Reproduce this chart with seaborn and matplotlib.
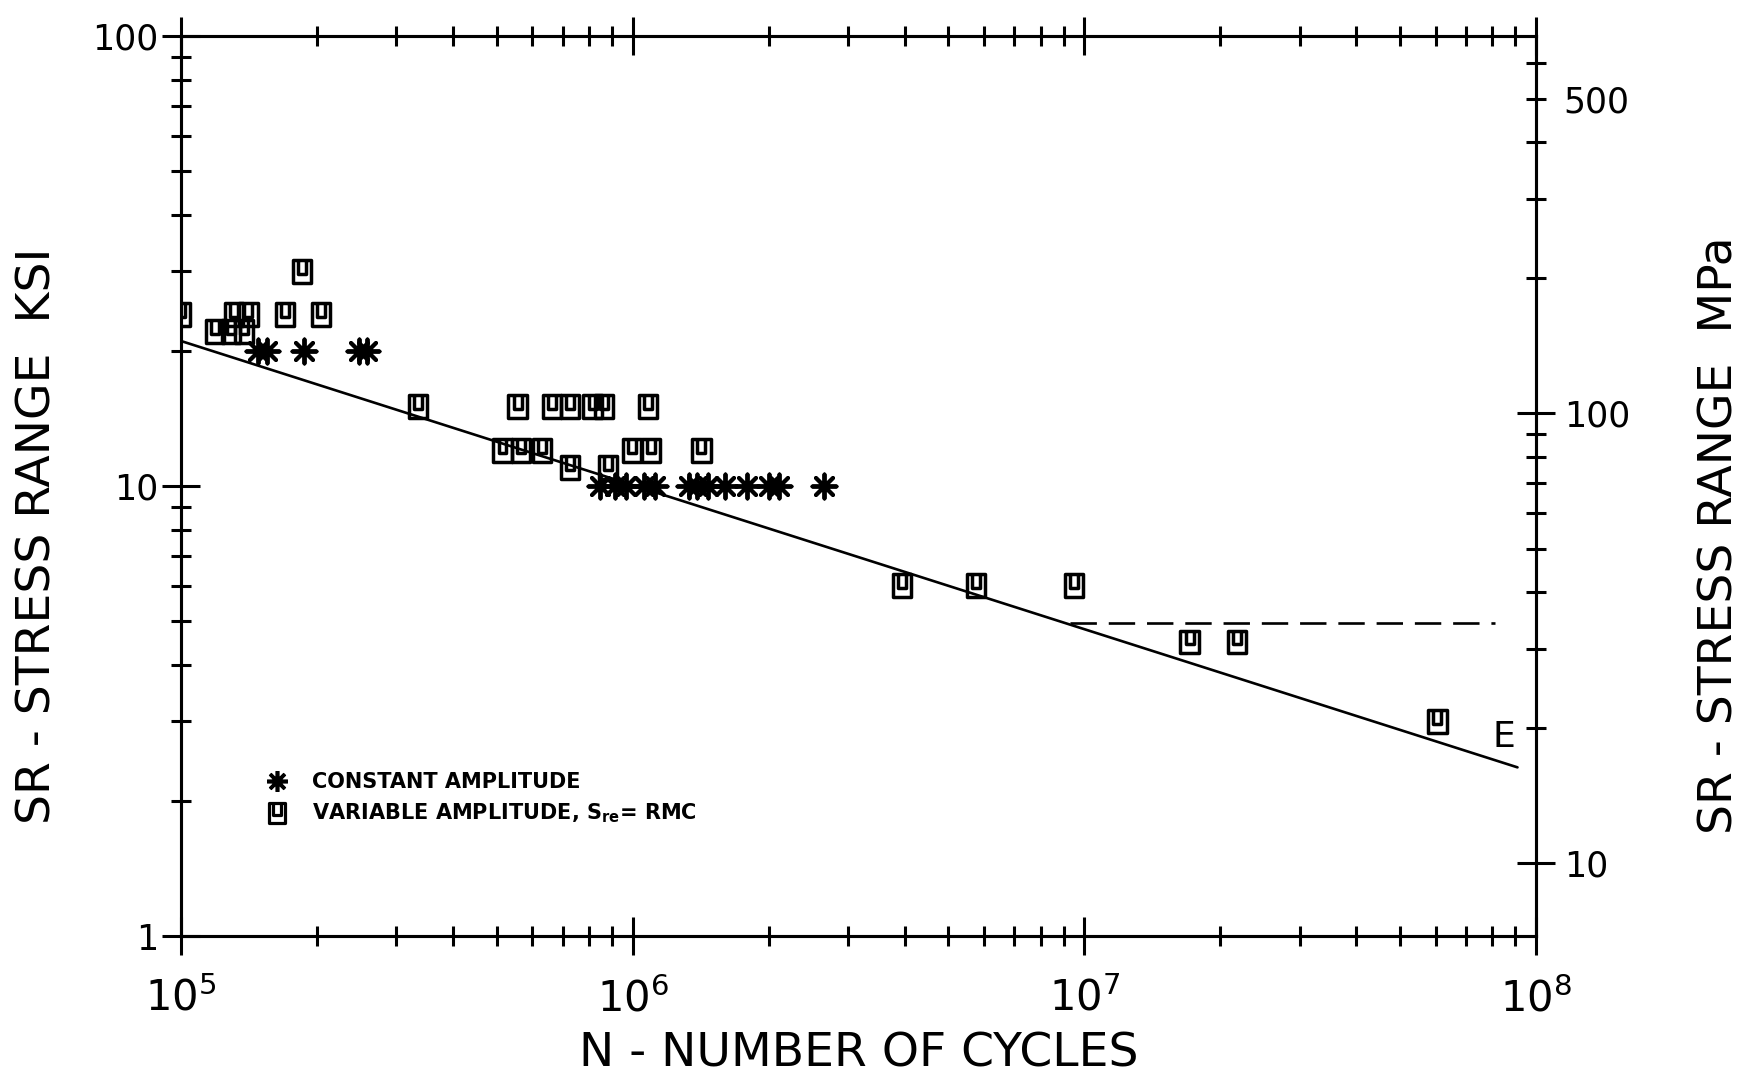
import numpy as np
import pandas as pd
import matplotlib
matplotlib.use("Agg")
import matplotlib.pyplot as plt
import seaborn as sns
from matplotlib.path import Path
from matplotlib.lines import Line2D
from matplotlib.ticker import FixedLocator, NullFormatter

# --- data ---
const_N = [1.48e5, 1.55e5, 1.87e5, 2.48e5, 2.58e5,
           8.48e5, 9.13e5, 9.66e5, 1.06e6, 1.12e6, 1.33e6, 1.39e6, 1.47e6,
           1.60e6, 1.79e6, 2.00e6, 2.11e6, 2.65e6]
const_S = [20, 20, 20, 20, 20,
           10, 10, 10, 10, 10, 10, 10, 10,
           10, 10, 10, 10, 10]

var_N = [1.00e5, 1.19e5, 1.29e5, 1.38e5, 1.31e5, 1.41e5, 1.70e5, 2.04e5, 1.85e5,
         3.35e5, 5.56e5, 6.63e5, 7.26e5, 8.15e5, 8.63e5, 1.08e6,
         5.15e5, 5.65e5, 6.30e5, 7.27e5, 8.83e5, 9.95e5, 1.10e6, 1.42e6,
         3.95e6, 5.75e6, 9.50e6, 1.71e7, 2.18e7, 6.05e7]
var_S = [24, 22, 22, 22, 24, 24, 24, 24, 30,
         15, 15, 15, 15, 15, 15, 15,
         12, 12, 12, 11, 11, 12, 12, 12,
         6, 6, 6, 4.5, 4.5, 3.0]

line_N = [1.0e5, 9.1e7]
line_S = [21.0, 2.37]
cafl_N = [9.3e6, 8.1e7]
cafl_S = [4.95, 4.95]

x_major = [1e5, 1e6, 1e7, 1e8]
x_labels = [r"$\mathregular{10^{5}}$", r"$\mathregular{10^{6}}$",
            r"$\mathregular{10^{7}}$", r"$\mathregular{10^{8}}$"]
y_major = [1, 10, 100]
mpa_labels = {10: "10", 100: "100", 500: "500"}

KSI_TO_MPA = 6.895

sns.set_style("ticks")
plt.rcParams["font.family"] = ["DejaVu Sans"]
plt.rcParams["mathtext.default"] = "regular"
for k in ["text.color", "axes.labelcolor", "xtick.color", "ytick.color",
          "axes.edgecolor"]:
    plt.rcParams[k] = "black"

# square with a U inside
box_u = Path(
    [(-0.8, -1), (0.8, -1), (0.8, 1), (-0.8, 1), (-0.8, -1),
     (-0.35, 1), (-0.35, -0.2), (0.35, -0.2), (0.35, 1)],
    [Path.MOVETO, Path.LINETO, Path.LINETO, Path.LINETO, Path.CLOSEPOLY,
     Path.MOVETO, Path.LINETO, Path.LINETO, Path.LINETO])
star = (8, 2, 0)

fig = plt.figure(figsize=(17.51, 10.79), dpi=100)
ax = fig.add_axes([181 / 1751, 1 - 936 / 1079, 1355 / 1751, 900 / 1079])
ax.set_xscale("log")
ax.set_yscale("log")

df_var = pd.DataFrame({"N": var_N, "S": var_S})
df_const = pd.DataFrame({"N": const_N, "S": const_S})

sns.lineplot(x=line_N, y=line_S, ax=ax, color="black", lw=1.9)
sns.lineplot(x=cafl_N, y=cafl_S, ax=ax, color="black", lw=1.9,
             linestyle=(0, (10, 4.5)))

sns.scatterplot(data=df_var, x="N", y="S", ax=ax, marker=box_u, s=270,
                color="black", zorder=3)
coll = ax.collections[-1]
coll.set_facecolor("none")
coll.set_edgecolor("black")
coll.set_linewidth(2.5)

sns.scatterplot(data=df_const, x="N", y="S", ax=ax, marker=star, s=300,
                color="black", zorder=3)
coll = ax.collections[-1]
coll.set_edgecolor("black")
coll.set_linewidth(2.8)

ax.set_xlim(1e5, 1e8)
ax.set_ylim(1, 100)

for sp in ax.spines.values():
    sp.set_linewidth(2.2)
    sp.set_visible(True)

ax.xaxis.set_major_locator(FixedLocator(x_major))
ax.set_xticklabels(x_labels, fontsize=30)
ax.xaxis.set_minor_locator(FixedLocator(
    [m * d for d in [1e5, 1e6, 1e7] for m in range(2, 10)]))
ax.xaxis.set_minor_formatter(NullFormatter())
ax.yaxis.set_major_locator(FixedLocator(y_major))
ax.set_yticklabels([str(v) for v in y_major], fontsize=25)
ax.yaxis.set_minor_locator(FixedLocator(
    [m * d for d in [1, 10] for m in range(2, 10)]))
ax.yaxis.set_minor_formatter(NullFormatter())

ax.tick_params(which="major", direction="inout", length=28, width=2.2,
               top=True, right=False)
ax.tick_params(which="minor", direction="inout", length=14, width=2.2,
               top=True, right=False)
ax.tick_params(axis="x", which="major", pad=16)
ax.tick_params(axis="y", which="major", pad=2)

ax.set_xlabel("N - NUMBER OF CYCLES", fontsize=34, labelpad=8)
ax.set_ylabel("SR - STRESS RANGE  KSI", fontsize=34)
ax.yaxis.set_label_coords(-0.089, 0.445)

# right axis in MPa
ax2 = ax.twinx()
ax2.set_yscale("log")
ax2.set_ylim(1 * KSI_TO_MPA, 100 * KSI_TO_MPA)
ax2.yaxis.set_major_locator(FixedLocator([10, 100]))
ax2.yaxis.set_minor_locator(FixedLocator(
    [m * d for d in [10, 100] for m in range(2, 10) if m * d < 100 * KSI_TO_MPA]))
ax2.yaxis.set_major_formatter(plt.FuncFormatter(lambda v, p: mpa_labels.get(int(round(v)), "")))
ax2.yaxis.set_minor_formatter(plt.FuncFormatter(lambda v, p: mpa_labels.get(int(round(v)), "")))
ax2.tick_params(which="major", direction="inout", length=28, width=2.2,
                labelsize=25, pad=6)
ax2.tick_params(which="minor", direction="inout", length=14, width=2.2,
                labelsize=25, pad=13)
for sp in ax2.spines.values():
    sp.set_linewidth(2.2)
ax2.set_ylabel("SR - STRESS RANGE  MPa", fontsize=34, rotation=90)
ax2.yaxis.set_label_coords(1.119, 0.445)

# legend
handles = [Line2D([], [], linestyle="none", marker=star, markersize=15,
                  color="black", markeredgewidth=2.6),
           Line2D([], [], linestyle="none", marker=box_u, markersize=15,
                  markerfacecolor="none", markeredgecolor="black",
                  markeredgewidth=2.3)]
labels = ["CONSTANT AMPLITUDE", r"VARIABLE AMPLITUDE, S$_{re}$= RMC"]
ax.legend(handles, labels, loc="lower left", bbox_to_anchor=(0.049, 0.102),
          frameon=False, handlelength=1.0, handletextpad=1.2,
          labelspacing=0.45, prop={"weight": "bold", "size": 15})

ax.text(8.47e7, 2.77, "E", fontsize=26, ha="center", va="center")

fig.savefig("out.png", dpi=100)
